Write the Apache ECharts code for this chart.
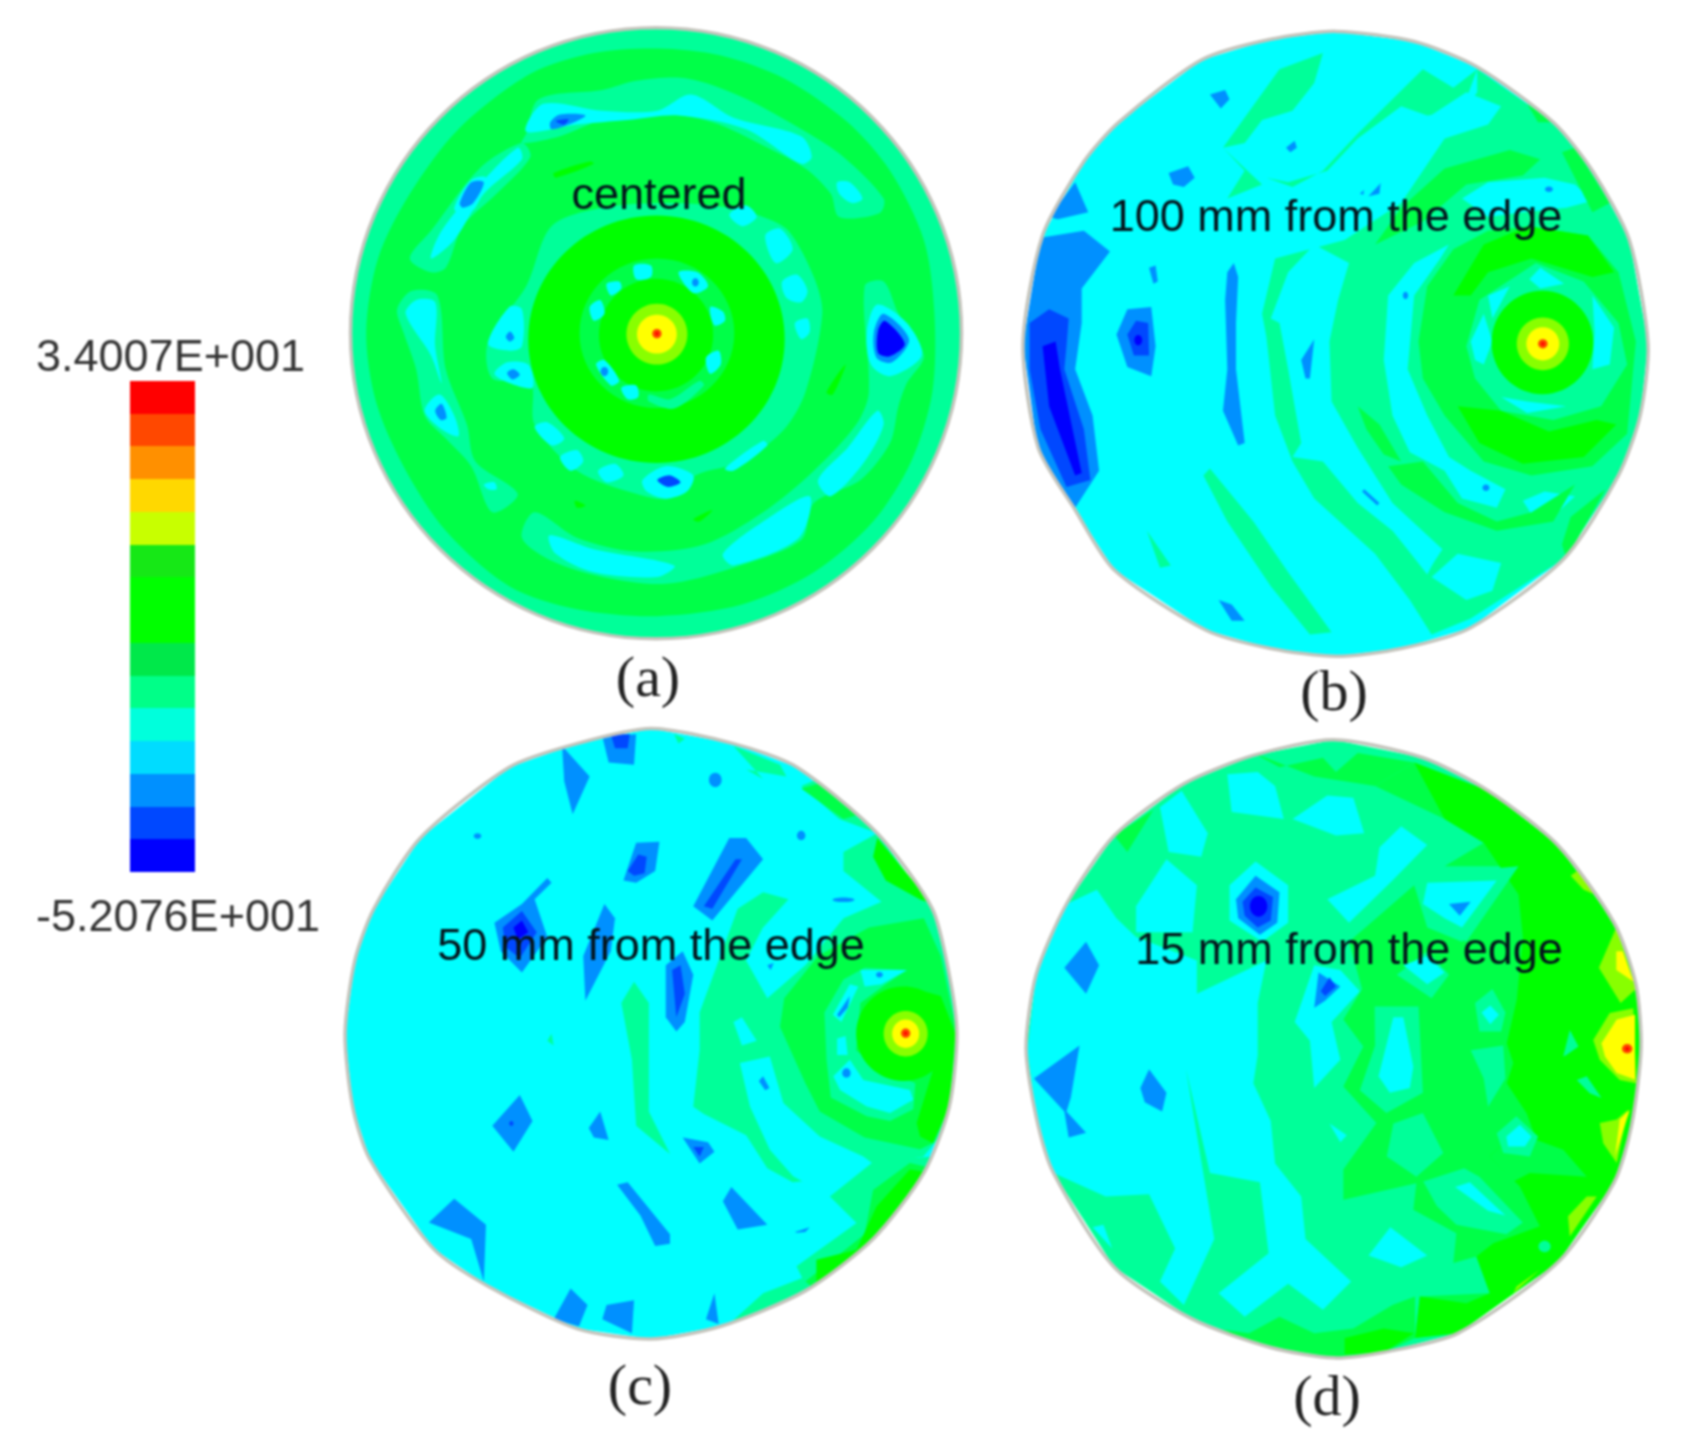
<!DOCTYPE html>
<html><head><meta charset="utf-8">
<style>html,body{margin:0;padding:0;background:#fff}#chart{width:1688px;height:1456px;filter:blur(1px)}</style>
<script src="https://cdn.jsdelivr.net/npm/echarts@6/dist/echarts.min.js"></script>
</head><body><div id="chart"></div>
<script>
const bandBounds=[-52.076,-46.337,-40.598,-34.859,-29.12,-23.381,-17.642,-11.903,-6.164,-0.425,5.314,11.053,16.792,22.531,28.268,34.007];
const bandColors=['#0000ff','#0048ff','#0090ff','#00dcff','#00ffdc','#00ff88','#00e84a','#00ff00','#00ff00','#16e816','#c8ff00','#ffd800','#ff9000','#ff4800','#ff0000'];
const fieldColors={3:'#00ffff',5:'#00ff99',6:'#00ff48',9:'#88ff00',11:'#ffff00',12:'#ff8800'};
const scaleLabels=['3.4007E+001','-5.2076E+001'];
const panelNotes=['centered','100 mm from the edge','50 mm from the edge','15 mm from the edge'];
const panelTags=['(a)','(b)','(c)','(d)'];

const outlineA=[747,722,722,662];
const regionsA=[
[5,'e',747,722,722,662],
[6,750,105,900,120,1050,170,1200,265,1300,370,1380,520,1405,680,1400,850,1350,1000,1260,1130,1120,1240,950,1310,750,1335,560,1320,400,1270,250,1150,150,1010,85,870,62,720,90,560,165,420,280,280,450,160,600,115],
[5,440,290,470,215,620,195,700,175,820,170,950,210,1100,285,1190,340,1285,430,1275,462,1180,470,1160,420,1100,365,1000,315,880,265,750,245,620,260,520,295,430,310],
[5,430,310,330,365,215,500,165,560,215,590,250,580,290,490,370,420,450,340],
[5,135,670,170,630,230,640,250,800,300,920,320,1000,420,1070,360,1110,310,1010,250,950,200,900,180,800,150,720],
[5,430,1165,460,1110,560,1165,700,1195,860,1180,1000,1110,1120,1020,1220,920,1250,850,1240,620,1285,610,1320,680,1380,770,1340,830,1320,880,1300,960,1230,1040,1120,1090,1090,1170,930,1230,770,1265,620,1250,500,1215],
[3,440,285,480,225,620,240,750,240,830,205,930,255,1090,295,1115,340,1090,355,960,280,800,250,680,260,560,270],
[2,497,265,520,248,580,250,540,270,500,280],[1,510,262,540,258,530,270],
[3,215,560,240,500,330,400,420,320,430,345,340,420,270,520],
[3,270,450,310,390,345,385,320,450,285,465],[2,283,440,310,395,340,395,315,440,290,450],
[3,155,680,180,650,225,655,225,750,240,830,215,770],
[3,200,890,235,855,270,900,280,945,240,930],[2,225,890,240,875,252,905,238,910],
[3,1175,395,1205,395,1235,430,1210,440,1180,420],
[3,340,1050,365,1045,370,1060,350,1060],
[3,495,1160,600,1190,790,1225,750,1250,600,1240,510,1200],
[3,905,1200,1000,1130,1110,1075,1085,1165,930,1225],
[3,1130,1040,1200,970,1270,890,1285,920,1240,1000,1160,1075],
[3,1245,720,1270,660,1340,700,1375,770,1300,815,1255,790],
[2,1262,720,1285,680,1345,735,1305,785,1268,775],[0,1272,715,1288,695,1335,745,1300,772,1272,765],
[5,500,490,620,450,780,440,920,450,1000,470,1060,500,1120,600,1140,680,1100,850,1050,930,950,1000,840,1030,780,1080,700,1070,560,1020,460,920,450,830,360,820,350,740,440,620],
[7,'e',748,735,303,268],
[3,350,745,400,665,430,670,430,750,400,760],[2,392,730,402,718,412,732,402,740],
[3,365,810,395,785,445,790,455,840,400,830],[2,395,808,410,800,425,812,408,822],
[3,460,925,490,915,530,950,500,965],[3,520,990,560,975,575,1000,545,1020],[3,610,1020,650,1005,670,1030,630,1045],
[3,715,1040,770,1010,835,1030,820,1065,770,1080,725,1065],[1,750,1040,780,1030,805,1045,775,1055],
[3,1005,510,1040,495,1070,540,1030,570],[3,1045,610,1080,595,1105,630,1090,655,1055,645],[3,1075,700,1105,690,1110,720,1090,735],
[3,920,465,960,445,985,470,950,490],[3,910,1015,1000,955,1010,965,930,1020],
[7,505,375,590,350,600,355,510,385],[7,1150,850,1195,790,1165,855],[7,835,1125,880,1105,850,1130],[7,555,1085,580,1095,560,1100],
[6,'e',749,722,183,162],
[7,'e',747,726,135,122],
[3,695,575,735,575,735,600,700,605],[3,800,590,845,590,870,620,835,635],[3,630,615,660,610,665,625,640,640],[3,590,665,615,650,625,680,600,695],
[3,875,665,905,675,910,695,885,705],[3,865,775,895,760,900,790,875,810],[3,605,790,625,780,660,825,640,835],[3,665,840,700,835,705,860,680,865],
[5,730,855,780,865,850,825,860,835,790,885,730,870],
[2,'e',625,805,9,10],[2,'e',840,612,8,9],
[9,'e',749,724,72,66],[11,'e',749,724,47,42],[13,'e',749,723,11,10],[14,'e',749,723,4,4]
];

const outlineB=[750,68,930,90,1075,145,1250,265,1340,370,1425,520,1468,745,1450,900,1400,1030,1275,1210,1060,1360,900,1405,750,1422,600,1405,450,1365,240,1235,150,1105,65,970,30,745,75,510,170,350,250,265,440,130,600,85];
const regionsB=[
[3,...outlineB],
[2,90,470,150,395,180,460,110,475],
[2,70,515,170,500,230,545,165,625,165,700,150,800,190,900,205,1020,150,1100,100,1050,60,950,30,745],
[1,45,700,90,670,135,690,130,750,125,800,170,930,185,1040,130,1055,70,930,45,800],
[0,75,750,105,740,115,800,165,1025,150,1030,90,880],
[2,245,725,270,670,325,665,335,750,325,815,270,795],[1,270,725,290,695,318,700,320,770,285,770],[0,'e',295,737,9,11],
[2,320,580,335,575,340,610,330,615],
[2,500,590,515,570,525,600,520,700,520,800,540,960,525,965,490,890,500,800,495,650],
[2,365,375,410,360,425,385,400,405,375,400],[2,460,205,495,195,505,215,485,235],[2,635,320,655,305,660,320,645,330],[2,805,420,855,378,850,420,825,425],
[5,315,1150,370,1225,345,1230],[2,480,1300,510,1310,540,1345,510,1345],
[5,620,150,720,115,700,180,650,240,580,260,540,310,490,320,580,400,500,430,540,370,490,320],
[5,590,385,650,405,720,370,800,290,880,215,950,150,1020,190,1075,150,1040,240,960,250,900,230,800,300,730,370,640,395],
[5,445,1030,460,1015,560,1130,640,1240,740,1370,690,1375,600,1270,500,1130],
[5,1075,150,1250,265,1340,370,1425,520,1468,745,1450,900,1400,1030,1275,1210,1060,1340,970,1375,920,1300,840,1200,700,1080,650,1000,610,900,590,730,580,680,610,560,770,520,900,440,1000,300,1075,200],
[3,600,690,640,590,700,530,780,570,755,650,735,740,740,870,800,970,880,1090,995,1190,960,1240,880,1150,800,1090,720,1000,650,990,670,960,640,800,620,700],
[2,670,780,700,735,690,820,680,820],[2,815,1060,850,1090,845,1095,810,1065],
[3,860,780,870,640,930,570,1010,530,990,560,930,640,915,800,960,900,1010,990,1060,1020,1140,1060,1120,1100,1040,1080,1000,1020,920,980,880,900],
[3,960,255,1050,200,1130,230,1100,270,1000,300],[3,1180,1085,1230,1065,1300,1075,1260,1110,1200,1115],[3,885,1155,920,1130,990,1190,960,1245],[3,970,1250,1030,1200,1130,1220,1110,1280,1050,1300],
[3,820,380,900,280,930,270,920,320,850,400,810,440],
[3,1040,430,1100,395,1230,385,1300,400,1340,435,1280,450,1180,460,1100,470],
[2,'e',1240,410,9,6],[2,'e',910,640,6,8],[2,'e',1095,1057,8,7],
[6,900,450,1000,365,1150,325,1220,345,1180,380,1050,400,1000,440,950,480,840,530],
[6,870,1010,950,1000,1030,1090,1120,1130,1200,1110,1300,1050,1250,1130,1120,1150,1000,1110,900,1050],
[6,1270,330,1300,320,1380,440,1340,460],[6,1270,1180,1290,1120,1370,1060,1280,1210],[6,1190,225,1250,265,1215,265],
[6,800,880,850,920,900,1000,860,985,820,930],
[6,940,740,960,620,1020,540,1100,500,1200,490,1330,510,1400,590,1440,740,1420,940,1340,1010,1200,1030,1090,1000,1000,900,950,820],
[7,1020,640,1090,530,1190,490,1330,510,1390,590,1340,600,1200,560,1100,590,1060,640],
[7,1030,880,1130,890,1240,935,1350,910,1395,920,1320,990,1180,1005,1080,960],
[5,1050,750,1080,650,1210,570,1320,610,1400,700,1420,790,1360,880,1250,910,1130,890,1070,820],
[3,1195,605,1220,580,1275,615,1220,625],[3,1100,640,1150,620,1110,690],[3,1060,740,1090,680,1110,740,1090,790,1070,780],[3,1340,640,1390,710,1380,790,1340,800,1345,720],[3,1130,860,1190,870,1280,880,1190,895],
[7,'e',1225,742,117,112],
[9,'e',1226,745,60,57],[11,'e',1226,745,38,36],[13,'e',1226,745,11,10],[14,'e',1226,745,4,4]
];

const outlineC=[735,18,930,50,1080,100,1270,240,1400,400,1440,540,1458,665,1440,820,1380,960,1260,1100,1100,1210,900,1285,735,1312,560,1290,350,1200,220,1120,70,930,30,820,12,665,35,510,80,400,190,250,400,100,560,50];
const regionsC=[
[3,...outlineC],
[5,850,620,940,400,1000,365,1060,380,1000,440,960,510,1010,590,1100,520,1190,420,1280,385,1190,320,1190,280,1270,240,1180,210,1090,140,1130,125,1270,240,1400,400,1440,540,1458,665,1440,820,1420,880,1379,925,1264,943,1158,1010,1120,975,1070,980,1010,950,960,880,860,835,835,820,850,700],
[3,930,640,950,630,985,680,950,690],
[3,945,727,1016,713,1048,812,1134,883,1237,925,1264,943,1158,1010,1071,967,1016,911,969,819],
[3,1000,440,1090,420,1190,420,1100,500,1010,580,960,510],
[2,'e',1190,381,26,5],
[5,665,600,695,555,730,600,730,720,730,830,780,920,700,860,690,720],
[5,1158,1010,1262,935,1400,925,1275,1105,1110,1215,1079,1158,1221,1066],
[5,920,1280,1000,1215,1100,1180,1130,1195,1000,1260],
[5,930,55,1040,95,1055,120,960,105,1000,125],
[5,790,30,815,40,800,50],
[6,1040,650,1050,590,1130,500,1250,440,1380,420,1420,500,1458,665,1440,820,1400,897,1371,910,1240,885,1134,830,1100,770],
[6,1090,145,1190,210,1230,200,1130,135],
[6,1260,996,1347,939,1400,950,1275,1115,1134,1215,1100,1190,1240,1090],
[7,1268,1031,1347,953,1400,960,1280,1115,1126,1215,1126,1144,1221,1123],
[7,1270,250,1400,390,1370,380,1290,340,1260,290],
[7,1220,660,1260,590,1340,565,1420,585,1455,665,1440,820,1402,897,1371,883,1363,854,1402,741,1320,765,1240,720],
[5,1145,620,1190,550,1240,525,1340,530,1290,560,1230,600,1220,700,1260,730,1360,770,1355,825,1300,850,1245,840,1160,800,1150,720],
[3,1165,625,1205,560,1225,565,1185,640],[3,1175,675,1195,670,1200,710,1175,710],
[3,1166,755,1205,720,1237,763,1347,784,1355,805,1300,833,1245,819,1182,784],[3,1230,530,1340,530,1280,560,1240,565],
[2,1175,625,1205,585,1200,610,1180,630],[2,'e',1275,540,8,6],[2,'e',1197,748,10,10],
[7,'e',1332,665,112,100],
[9,'e',1337,665,52,48],[11,'e',1337,665,32,30],[13,'e',1337,664,11,10],[14,'e',1337,664,4,4],
[2,620,35,700,30,695,95,635,90],[1,640,30,685,30,680,60,650,60],
[2,525,55,590,120,550,200,530,130],[2,'e',887,127,15,15],[2,'e',1090,245,10,10],[2,'e',325,246,9,6],
[2,670,340,700,260,755,258,745,320,700,345],[1,680,320,705,285,725,290,720,325,695,330],
[2,835,395,920,250,960,250,1000,295,880,425],[1,860,395,935,295,950,295,880,400],
[2,365,430,430,390,490,335,500,345,460,380,490,460,430,535,380,490],[1,385,440,430,405,465,450,425,505,390,480],[0,410,440,430,425,445,450,420,465],
[2,575,500,625,390,650,420,640,490,580,595],
[2,770,520,810,490,835,540,815,640,795,660,770,630],[1,785,530,805,520,815,580,795,630],
[2,360,860,425,795,455,850,410,915],[1,'e',405,855,5,5],
[2,588,865,615,830,635,890,600,885],
[2,810,885,870,895,885,915,850,940],[1,835,905,860,905,850,925],
[2,655,985,680,980,780,1090,780,1110,745,1115,710,1050],
[2,905,1020,925,990,1010,1070,940,1080],
[2,210,1065,270,1015,345,1070,340,1190,310,1100],
[2,505,1270,545,1205,585,1240,565,1285],[2,620,1270,630,1240,695,1230,690,1300],[2,865,1270,885,1215,895,1280],
[2,1075,1085,1110,1075,1100,1085,1080,1087],[2,990,765,1000,755,1015,780,1005,785],[2,1010,520,1025,515,1018,530],
[5,490,680,500,665,505,690]
];

const outlineD=[745,42,950,80,1100,150,1260,265,1390,430,1440,560,1452,695,1430,860,1390,980,1260,1150,1030,1300,860,1340,745,1352,600,1330,420,1270,240,1160,100,960,60,840,37,695,60,540,130,390,240,245,400,135,560,75];
const regionsD=[
[5,...outlineD],
[6,930,90,1100,150,1260,265,1390,430,1440,560,1452,695,1430,860,1390,980,1260,1150,1030,1300,932,1310,943,1222,1104,1215,1073,1137,1020,1151,1027,1088,928,1038,935,982,767,1017,767,953,843,854,767,777,813,692,767,635,810,570,780,470,930,350,960,440,1040,470,1170,310,1000,310,1090,260,1000,210,840,140],
[7,930,90,1100,150,1260,265,1390,430,1440,560,1452,695,1430,860,1390,980,1260,1150,1030,1300,932,1310,943,1222,1050,1236,1104,1215,1073,1137,1112,1109,1219,1073,1173,989,1104,925,1127,904,1273,911,1327,968,1273,911,1211,890,1189,834,1143,770,1158,727,1143,685,1166,593,1180,460,1170,370,1090,260,1000,210],
[6,1104,925,1127,904,1219,897,1273,911,1327,968,1196,960,1158,978],
[6,560,70,620,100,720,80,750,110,800,70,930,90,840,140,700,120],[6,470,1290,550,1300,620,1265,700,1300,790,1290,880,1240,932,1222,932,1310,860,1340,745,1352,600,1330],[6,240,245,290,215,330,190,270,280],
[7,770,1310,860,1290,930,1300,860,1340,770,1345],
[5,805,785,840,690,839,607,940,607,950,790,866,833],[3,848,755,882,630,905,630,928,735,920,780,874,790],
[5,1060,700,1135,690,1140,760,1100,820,1090,760],
[5,1120,876,1165,840,1215,883,1196,925,1135,918],[3,1142,883,1173,858,1200,883,1185,904,1146,904],
[5,1070,600,1110,570,1140,620,1130,660,1080,660],[3,1085,620,1105,605,1125,625,1105,645],
[5,951,978,1045,950,1080,968,1180,1065,1142,1090,1027,1070,982,1030],[3,1024,990,1058,980,1140,1050,1100,1040],
[5,867,925,882,855,950,833,997,918,935,968],
[5,1273,713,1288,657,1308,692,1280,710],[5,1304,763,1327,755,1361,801,1334,791],[5,'e',1230,1116,14,12],
[5,890,540,960,490,1010,540,970,590],
[9,1355,525,1395,440,1440,570,1405,600],[11,1395,490,1410,490,1435,555,1395,530],
[9,1342,678,1380,621,1434,611,1441,770,1403,763,1357,720],[11,1361,685,1396,635,1438,625,1438,762,1396,748,1369,713],[13,'e',1420,697,12,10],[14,'e',1420,697,5,4],
[9,1357,854,1396,847,1422,826,1396,939,1365,897],[11,1392,925,1403,847,1426,826],
[9,1284,1052,1327,1010,1350,1010,1288,1095],[9,1190,200,1260,265,1230,240],[9,1290,330,1320,310,1370,380,1320,360],[9,1158,1215,1219,1165,1166,1200],
[3,500,115,570,110,610,140,630,210,510,195],[3,650,210,730,160,790,165,815,240,750,245],[3,345,185,395,150,455,240,440,290,365,280],
[3,850,270,900,225,960,265,880,340,780,430,730,380,840,330],[3,290,395,360,295,430,350,420,450,290,450],
[5,930,330,1170,310,1050,470,980,440],[3,960,345,1120,340,1040,440,1000,420,950,390],[2,1010,390,1060,385,1035,415],
[3,905,520,960,500,1000,535,960,560],
[3,40,700,60,540,130,390,200,360,245,420,290,460,430,510,430,580,590,510,570,600,570,710,560,770,600,850,610,940,670,1010,680,1100,785,1190,720,1250,640,1195,540,1265,480,1215,595,1130,575,980,460,960,405,740,470,1100,400,1240,345,1190,380,1120,320,1005,220,1010,100,960,60,840],
[3,190,1075,215,1070,235,1120],
[3,505,350,565,300,640,350,640,430,580,470,505,425],[2,520,380,565,330,620,365,615,430,575,455,525,420],[1,535,385,565,355,605,375,600,425,570,440,540,415],[0,'e',572,395,20,22],
[2,125,525,175,470,205,520,175,580],[2,55,760,160,690,140,800,130,830,175,875,135,885,125,830],[2,300,780,320,740,360,790,350,830,310,810],
[3,655,640,700,520,760,530,805,575,740,640,760,720,700,780,690,680],[2,700,610,710,535,760,565,725,595],[1,715,575,735,545,750,565,725,585],
[3,825,1135,875,1075,960,1135,900,1160],[3,735,855,775,880,760,895]
];

const panelRects=[[340,0,660,720],[1010,0,678,720],[340,720,660,736],[1010,720,678,736]];
const panelOutlines=[outlineA,outlineB,outlineC,outlineD];
const panelRegions=[regionsA,regionsB,regionsC,regionsD];
const panelSmooth=[0.3,0,0,0];
const outlineSmooth=0.25;

const pairs=a=>{const o=[];for(let i=0;i<a.length;i+=2)o.push([a[i],a[i+1]]);return o;};
const colorOf=l=>fieldColors[l]||bandColors[l];
const ellipseShape=(api,cx,cy,rx,ry)=>{const c=api.coord([cx,cy]),e=api.coord([cx+rx,cy+ry]);return {cx:c[0],cy:c[1],rx:e[0]-c[0],ry:e[1]-c[1]};};
const outlineElement=(k,api)=>{
  const o=panelOutlines[k];
  return o.length===4?{type:'ellipse',shape:ellipseShape(api,o[0],o[1],o[2],o[3])}
    :{type:'polygon',shape:{points:pairs(o).map(c=>api.coord(c)),smooth:outlineSmooth}};
};

const chart=echarts.init(document.getElementById('chart'),null,{renderer:'canvas'});
const grid=[{left:130,top:381,width:65,height:491}];
const xAxis=[{type:'value',gridIndex:0,min:0,max:1,show:false}];
const yAxis=[{type:'value',gridIndex:0,min:bandBounds[0],max:bandBounds[15],show:false}];
const series=[{
  type:'custom',xAxisIndex:0,yAxisIndex:0,silent:true,
  data:bandColors.map((c,i)=>[i]),
  renderItem(p,api){
    const i=p.dataIndex,a=api.coord([0,bandBounds[i]]),b=api.coord([1,bandBounds[i+1]]);
    const t=Math.round(b[1]),h=Math.round(a[1])-t;
    return {type:'rect',shape:{x:Math.round(a[0]),y:t,width:Math.round(b[0]-a[0]),height:h},style:{fill:bandColors[i]}};
  }
}];
panelRects.forEach((r,k)=>{
  const g=k+1;
  grid.push({left:r[0],top:r[1],width:r[2],height:r[3]});
  xAxis.push({type:'value',gridIndex:g,min:0,max:1560,show:false});
  yAxis.push({type:'value',gridIndex:g,min:0,max:1560,inverse:true,show:false});
  const regs=panelRegions[k];
  series.push({
    type:'custom',xAxisIndex:g,yAxisIndex:g,silent:true,clip:false,
    data:regs.map((d,i)=>[i]),
    renderItem(p,api){
      const d=regs[p.dataIndex];
      const clipPath=outlineElement(k,api);
      if(d[1]==='e'){
        return {type:'ellipse',shape:ellipseShape(api,d[2],d[3],d[4],d[5]),style:{fill:colorOf(d[0])},clipPath};
      }
      const pts=pairs(d.slice(1)).map(c=>api.coord(c));
      return {type:'polygon',shape:{points:pts,smooth:panelSmooth[k]},style:{fill:colorOf(d[0])},clipPath};
    }
  });
  series.push({
    type:'custom',xAxisIndex:g,yAxisIndex:g,silent:true,clip:false,
    data:[[0]],
    renderItem(p,api){
      const el=outlineElement(k,api);
      el.style={fill:'none',stroke:'#c4c4bc',lineWidth:3.5,lineJoin:'round'};
      return el;
    }
  });
});
const txt=(t,x,y,size,fam,color,align)=>({type:'text',x,y,z:50,style:{text:t,fill:color,font:size+'px '+fam,textAlign:align||'center',textVerticalAlign:'middle'}});
const sans='"Liberation Sans"',serif='"Liberation Serif"';
const graphic=[
  txt(panelNotes[0],659,197,45,sans,'#04141c'),
  txt(panelNotes[1],1336,219,45,sans,'#04141c'),
  txt(panelNotes[2],651,948,45,sans,'#04141c'),
  txt(panelNotes[3],1349,952,45,sans,'#04141c'),
  txt(panelTags[0],648,681,58,serif,'#222'),
  txt(panelTags[1],1334,695,58,serif,'#222'),
  txt(panelTags[2],640,1389,58,serif,'#222'),
  txt(panelTags[3],1327,1400,58,serif,'#222'),
  txt(scaleLabels[0],36,359,45,sans,'#333','left'),
  txt(scaleLabels[1],36,919,45,sans,'#333','left')
];
chart.setOption({animation:false,backgroundColor:'#fff',grid,xAxis,yAxis,series,graphic});
</script></body></html>
